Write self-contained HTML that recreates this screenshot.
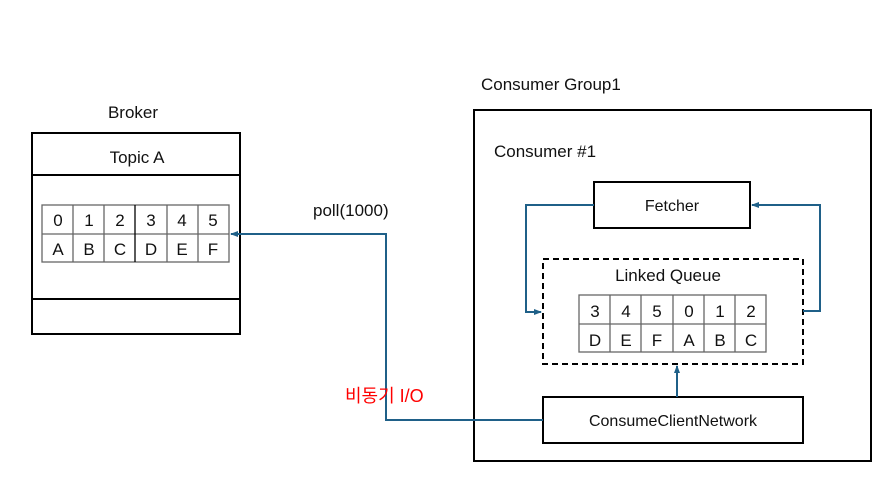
<!DOCTYPE html>
<html><head><meta charset="utf-8"><style>
html,body{margin:0;padding:0;background:#fff;width:888px;height:481px;overflow:hidden}
text{font-family:"Liberation Sans","Noto Sans CJK KR",sans-serif;font-size:17px;fill:#111}
</style></head><body>
<svg width="888" height="481" viewBox="0 0 888 481" xmlns="http://www.w3.org/2000/svg">
<defs>
<marker id="a" markerWidth="8" markerHeight="8" refX="7" refY="4" orient="auto" markerUnits="userSpaceOnUse">
<path d="M0,1 L8,4 L0,7 Z" fill="#1f6088"/></marker>
</defs>
<text x="133" y="118" text-anchor="middle">Broker</text>
<rect x="32" y="133" width="208" height="201" fill="none" stroke="#000" stroke-width="2"/>
<line x1="32" y1="175" x2="240" y2="175" stroke="#000" stroke-width="2"/>
<line x1="32" y1="299" x2="240" y2="299" stroke="#000" stroke-width="2"/>
<text x="137" y="163" text-anchor="middle">Topic A</text>
<g stroke="#666" stroke-width="1.3" fill="none">
<rect x="42" y="205" width="187" height="57"/>
<line x1="42" y1="234" x2="229" y2="234"/>
<line x1="73" y1="205" x2="73" y2="262"/><line x1="104" y1="205" x2="104" y2="262"/>
<line x1="135" y1="205" x2="135" y2="262" stroke="#000"/><line x1="167" y1="205" x2="167" y2="262"/>
<line x1="198" y1="205" x2="198" y2="262"/>
</g>
<g text-anchor="middle">
<text x="58" y="226">0</text><text x="89" y="226">1</text><text x="120" y="226">2</text><text x="151" y="226">3</text><text x="182" y="226">4</text><text x="213" y="226">5</text>
<text x="58" y="255">A</text><text x="89" y="255">B</text><text x="120" y="255">C</text><text x="151" y="255">D</text><text x="182" y="255">E</text><text x="213" y="255">F</text>
</g>
<text x="313" y="216">poll(1000)</text>
<text x="481" y="90">Consumer Group1</text>
<rect x="474" y="110" width="397" height="351" fill="none" stroke="#000" stroke-width="2"/>
<text x="494" y="157">Consumer #1</text>
<rect x="594" y="182" width="156" height="46" fill="none" stroke="#000" stroke-width="2"/>
<text x="672" y="211" text-anchor="middle" style="font-size:16px">Fetcher</text>
<rect x="543" y="259" width="260" height="105" fill="none" stroke="#000" stroke-width="2" stroke-dasharray="6,4"/>
<text x="668" y="281" text-anchor="middle">Linked Queue</text>
<g stroke="#666" stroke-width="1.3" fill="none">
<rect x="579" y="295" width="187" height="57"/>
<line x1="579" y1="324" x2="766" y2="324"/>
<line x1="610" y1="295" x2="610" y2="352"/><line x1="641" y1="295" x2="641" y2="352"/>
<line x1="673" y1="295" x2="673" y2="352"/><line x1="704" y1="295" x2="704" y2="352"/>
<line x1="735" y1="295" x2="735" y2="352"/>
</g>
<g text-anchor="middle">
<text x="595" y="317">3</text><text x="626" y="317">4</text><text x="657" y="317">5</text><text x="689" y="317">0</text><text x="720" y="317">1</text><text x="751" y="317">2</text>
<text x="595" y="346">D</text><text x="626" y="346">E</text><text x="657" y="346">F</text><text x="689" y="346">A</text><text x="720" y="346">B</text><text x="751" y="346">C</text>
</g>
<rect x="543" y="397" width="260" height="46" fill="none" stroke="#000" stroke-width="2"/>
<text x="673" y="426" text-anchor="middle" style="font-size:16px">ConsumeClientNetwork</text>
<g stroke="#1f6088" stroke-width="2" fill="none">
<polyline points="594,205 526,205 526,312 541,312" marker-end="url(#a)"/>
<polyline points="803,311 820,311 820,205 752,205" marker-end="url(#a)"/>
<polyline points="677,397 677,366" marker-end="url(#a)"/>
<polyline points="543,420 386,420 386,234 231,234" marker-end="url(#a)"/>
</g>
<text x="345" y="402" style="fill:#ff0000;font-size:18px">비동기 I/O</text>
</svg>
</body></html>
